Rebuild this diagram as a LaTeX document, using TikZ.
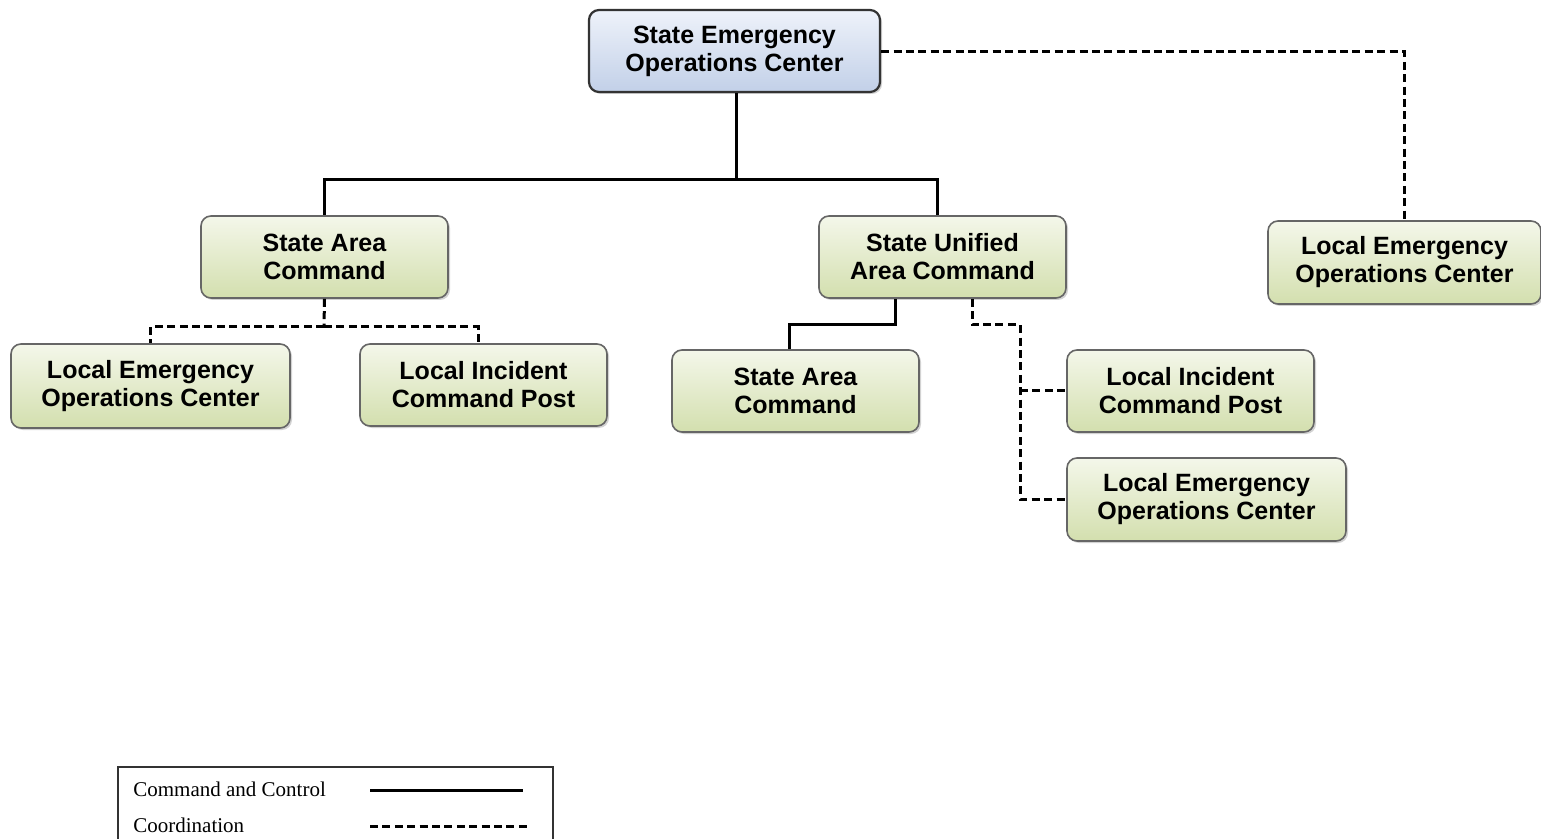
\documentclass[tikz,border=0pt]{standalone}
\usepackage{fontspec}
\setmainfont{Liberation Sans}
\newfontfamily\legendfont{Liberation Serif}
\usetikzlibrary{shadows}
\definecolor{gtop}{HTML}{F4F7EA}
\definecolor{gbot}{HTML}{D3DFAE}
\definecolor{btop}{HTML}{EEF2FA}
\definecolor{bbot}{HTML}{C2D0E8}
\tikzset{
  orgbox/.style={rectangle, rounded corners=5pt, draw=black!60, line width=0.8pt,
    top color=gtop, bottom color=gbot, align=center, inner sep=2pt,
    font=\fontsize{12.5}{14}\selectfont\bfseries,
    drop shadow={shadow xshift=1pt, shadow yshift=-1pt, opacity=0.35},
    minimum width=123.5pt, minimum height=41pt},
  topbox/.style={orgbox, draw=black!80, line width=1.1pt, top color=btop, bottom color=bbot},
  cmd/.style={line width=1.5pt, black},
  coord/.style={line width=1.5pt, black, dash pattern=on 4pt off 2.2pt},
}
\begin{document}
\begin{tikzpicture}[x=0.5pt,y=-0.5pt]
\useasboundingbox (0,0) rectangle (1541,839);
\fill[white] (0,0) rectangle (1541,839);

% nodes
\node[topbox, minimum width=145.5pt] (seoc) at (734.5,51) {State Emergency\\Operations Center};
\node[orgbox] (sac) at (324.5,257) {State Area\\Command};
\node[orgbox] (suac) at (942.5,257) {State Unified\\Area Command};
\node[orgbox, minimum width=136.5pt, minimum height=41.5pt] (leocr) at (1404.5,262.5) {Local Emergency\\Operations Center};
\node[orgbox, minimum width=139.5pt, minimum height=42pt] (leocl) at (150.5,386) {Local Emergency\\Operations Center};
\node[orgbox] (licpl) at (483.5,385) {Local Incident\\Command Post};
\node[orgbox] (sac2) at (795.5,391) {State Area\\Command};
\node[orgbox] (licpr) at (1190.5,391) {Local Incident\\Command Post};
\node[orgbox, minimum width=139.5pt, minimum height=41.5pt] (leocb) at (1206.5,499.5) {Local Emergency\\Operations Center};

% command and control
\coordinate (j1) at (736,180);
\draw[cmd] ([xshift=0.75pt]seoc.south) -- (j1);
\draw[cmd] (j1) -| (sac.north);
\draw[cmd] (j1) -| ([xshift=-2.75pt]suac.north);
\coordinate (j2) at (895,325);
\draw[cmd] (j2 |- suac.south) -- (j2) -| ([xshift=-3.25pt]sac2.north);

% coordination
\draw[coord] (seoc.east |- 0,52) -| (leocr.north);
\coordinate (j3) at (324,327);
\draw[coord] (sac.south) -- (j3);
\draw[coord] (j3) -| (leocl.north);
\draw[coord] (j3) -| ([xshift=-2.75pt]licpl.north);
\coordinate (j4) at (972,325);
\coordinate (j5) at (1020,325);
\draw[coord] (j4 |- suac.south) -- (j4) -- (j5) |- (leocb.west);
\draw[coord] (j5 |- licpr.west) -- (licpr.west);

% legend
\draw[line width=0.8pt, black!80] (118,850) -- (118,767) -- (553,767) -- (553,850);
\node[anchor=west, inner sep=0pt, font=\legendfont\fontsize{10.5}{12}\selectfont] (lg1) at (133,789) {Command and Control};
\node[anchor=west, inner sep=0pt, font=\legendfont\fontsize{10.5}{12}\selectfont] (lg2) at (133,825) {Coordination};
\coordinate (l1a) at (370,790);
\coordinate (l1b) at (523,790);
\coordinate (l2a) at (370,826);
\coordinate (l2b) at (530,826);
\draw[cmd] (l1a) -- (l1b);
\draw[coord] (l2a) -- (l2b);
\end{tikzpicture}
\end{document}
